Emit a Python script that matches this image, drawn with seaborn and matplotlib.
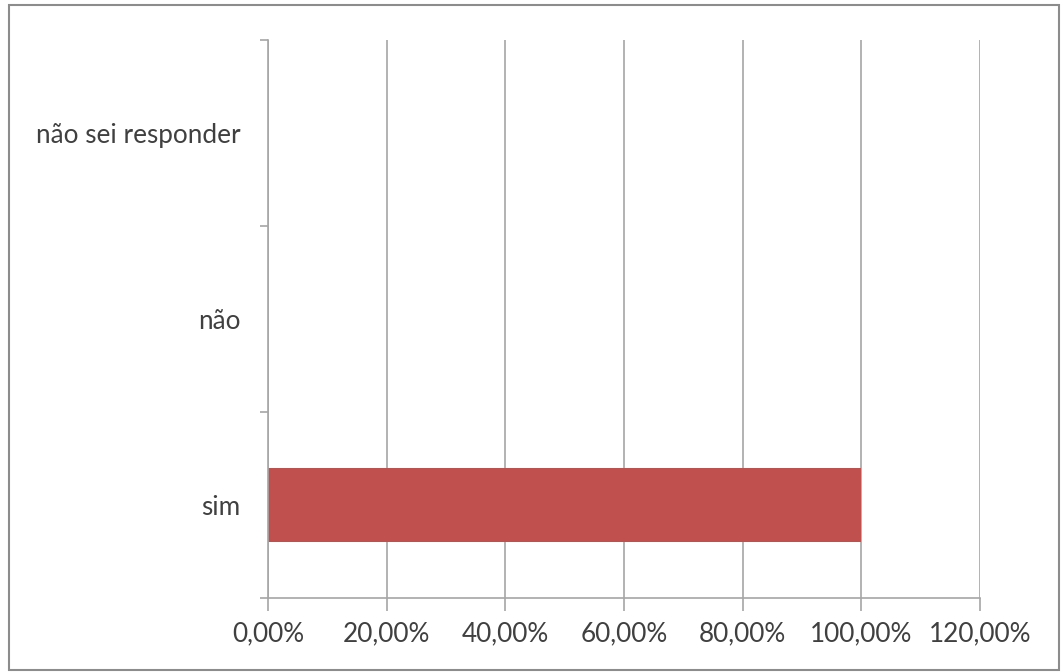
import matplotlib
matplotlib.use("Agg")
import matplotlib.pyplot as plt
import matplotlib.ticker as mticker
from matplotlib.patches import Rectangle
import seaborn as sns
import pandas as pd

categories = ["não sei responder", "não", "sim"]
values = [0.0, 0.0, 1.0]
xticks = [0.0, 0.2, 0.4, 0.6, 0.8, 1.0, 1.2]

sns.set_style("white")
plt.rcParams['font.family'] = ['Lato', 'DejaVu Sans']

df = pd.DataFrame({"cat": categories, "val": values})

fig = plt.figure(figsize=(10.62, 6.72), dpi=100)
ax = fig.add_axes([268/1062, 1 - 598/672, (980-268)/1062, (598-40)/672])

sns.barplot(data=df, x="val", y="cat", order=categories, orient="h",
            color="#C0504D", saturation=1, width=0.4, linewidth=0, ax=ax)

grid_c = "#A6A6A6"
text_c = "#404040"
fs = 18.8
ax.set_xlim(0, 1.2)
ax.set_ylim(2.5, -0.5)
ax.set_xticks(xticks)
ax.xaxis.set_major_formatter(mticker.FuncFormatter(lambda v, p: f"{v*100:.2f}%".replace(".", ",")))
ax.set_yticks(range(len(categories)))
ax.set_yticklabels(categories)
ax.set_yticks([-0.5, 0.5, 1.5, 2.5], minor=True)
ax.tick_params(axis="y", which="major", length=0, pad=20, labelsize=fs, labelcolor=text_c)
ax.tick_params(axis="y", which="minor", length=6, width=1.2, color=grid_c, direction="out", left=True)
ax.tick_params(axis="x", which="major", length=9, width=1.2, color=grid_c, direction="out",
               pad=8, labelsize=fs, labelcolor=text_c, bottom=True)
ax.set_axisbelow(True)
ax.grid(axis="x", color=grid_c, linewidth=1.2)
ax.grid(axis="y", visible=False)
ax.set_xlabel("")
ax.set_ylabel("")
for s in ["top", "right"]:
    ax.spines[s].set_visible(False)
for s in ["left", "bottom"]:
    ax.spines[s].set_color(grid_c)
    ax.spines[s].set_linewidth(1.2)

fig.patches.append(Rectangle((9/1062, 2/672), (1059-9)/1062, (667-2)/672,
                             transform=fig.transFigure, fill=False,
                             edgecolor="#8C8C8C", linewidth=1.5))

fig.savefig("out.png", dpi=100)
